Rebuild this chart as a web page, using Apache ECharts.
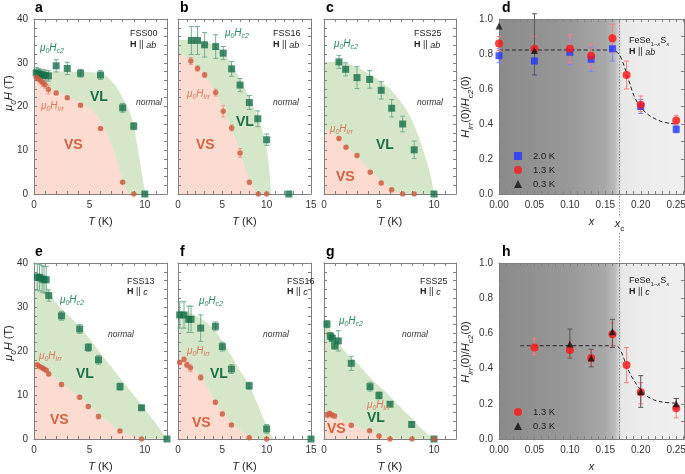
<!DOCTYPE html>
<html><head><meta charset="utf-8">
<script src="https://cdn.jsdelivr.net/npm/echarts@6/dist/echarts.min.js"></script>
<style>html,body{margin:0;padding:0;background:#fff}#c{width:685px;height:474px}</style>
</head><body><div id="c"></div>
<script>
// ---------- DATA ----------
// [T (K), mu0H (T), error]
const a_c2  = [[0.2,27.7,1.2],[0.4,27.5,1.2],[0.6,27.3,1.2],[0.8,27.2,1.2],[1.0,27.1,1.2],[1.3,27.0,1.2],[2.0,29.3,1.4],[3.0,28.7,1.4],[4.2,27.6,0.9],[6.0,27.2,1.0],[8.0,19.7,1.0],[9.0,15.5,0.8],[10.0,0,0]];
const a_irr = [[0.2,26.7,0.5],[0.4,26.3,0.6],[0.6,25.9,0.7],[0.8,25.4,0.8],[1.0,25.0,0.8],[1.3,23.9,1.0],[2.0,23.1,0.4],[3.0,22.0,0.3],[4.2,20.3,0.3],[6.0,15.0,0.2],[8.0,2.7,0.3],[9.0,0,0]];
const a_bc2 = [[0,28],[2,28],[4,27.9],[5.5,27.8],[6.3,27.3],[7,25.8],[7.5,24.2],[8,22],[8.6,19],[9,15.5],[9.25,12],[9.55,7.6],[9.83,3.2],[10.05,0]];
const a_birr= [[0,27.2],[0.5,26.3],[1,25.3],[1.5,24.3],[2,23.5],[3,22.4],[4,21.2],[5,19.6],[5.6,18.2],[6.3,15.5],[7,11.5],[7.6,6.5],[8.2,1.8],[8.6,0]];

const b_c2  = [[1.5,35.1,3.2],[2.2,35.1,3.2],[3.0,34.1,2.8],[4.25,33.7,2.7],[5.1,32.2,1.5],[6.05,28.6,1.7],[7.0,24.9,1.5],[8.05,20.9,1.6],[9.0,17.2,1.8],[10.0,12.4,1.3],[12.5,0,0]];
const b_irr = [[1.45,30.4,0.8],[2.2,28.7,0.6],[3.0,27.2,0.5],[4.25,23.2,0.8],[5.1,18.9,1.3],[6.05,15.1,0.7],[7.0,9.4,1.0],[8.05,2.7,0.4],[9.05,0,0],[10.0,0,0]];
const b_bc2 = [[0,35.2],[2,35.2],[3,34.8],[4,34],[5,32.5],[6,29.8],[7,26.3],[8,22.3],[9,17.6],[9.5,14.6],[10,10.5],[10.3,5.5],[10.5,0]];
const b_birr= [[0,32.2],[1.5,30.5],[2.2,29],[3,27.3],[4,24.2],[5,19.8],[6,15.2],[7,9.8],[7.5,6.5],[8,3.5],[8.5,1.3],[9,0.2],[9.3,0]];

const c_c2  = [[1.36,30.2,1.5],[1.97,28.5,1.5],[3.0,26.6,2.5],[4.15,26.2,2.0],[5.2,23.7,2.0],[6.15,19.6,2.0],[7.15,16.0,1.8],[8.2,10.1,2.0],[10.0,0,0]];
const c_irr = [[1.36,12.7,0.3],[2.0,10.7,0.3],[3.0,8.8,0.3],[4.2,5.0,0.3],[5.2,2.5,0.3],[6.15,1.0,0.2],[7.15,0,0],[8.2,0,0]];
const c_bc2 = [[0,30.2],[1.4,30.2],[2,29.9],[3,29],[4,27.6],[5,26],[6,24],[7,21],[7.5,19.2],[8,16.8],[8.7,12.4],[9.2,8.5],[9.64,4.8],[10,0]];
const c_birr= [[0,14.8],[0.55,14.2],[1.36,12.9],[2,11],[3,8.6],[4,6],[5,3.5],[6,1.5],[6.6,0.5],[7.1,0]];

const e_c2  = [[0.3,36.8,3],[0.5,36.7,3],[0.73,36.4,3],[0.9,36.2,3],[1.1,36.2,3],[1.33,32.6,1.3],[2.48,28.0,1.0],[4.12,25.0,1.0],[4.9,20.8,0.9],[5.82,18.0,1.0],[7.76,11.9,0.8],[9.7,7.1,0.4],[12.0,0,0]];
const e_irr = [[0.3,16.85,0.3],[0.5,16.5,0.3],[0.73,16.2,0.3],[0.9,15.9,0.3],[1.1,15.6,0.3],[1.33,14.8,0.4],[2.48,12.4,0.4],[4.12,9.5,0.4],[4.9,7.4,0.4],[5.82,5.1,0.5],[7.76,1.8,0.3],[9.7,0,0]];
const e_bc2 = [[0,37.8],[0.6,37.5],[1.0,35.8],[1.4,33.5],[2,31],[3,28.4],[4,25.8],[5,22.8],[6,19.5],[7,16.3],[8,13.1],[9,10],[10,6.8],[11,3.5],[12,0]];
const e_birr= [[0,17.1],[0.5,16.7],[1,16],[1.5,14.7],[2.5,12.6],[3.5,10.8],[4.5,8.8],[5.5,6.5],[6.5,4.3],[7.5,2.4],[8.5,1.1],[9.5,0.3],[10.2,0]];

const f_c2  = [[0.19,28.2,3],[0.68,28.2,3],[1.2,27.2,3],[1.47,27.2,3],[2.56,25.2,3],[4.22,25.6,1.0],[5.0,21.0,1.0],[6.03,15.9,1.0],[8.03,12.1,0.8],[10.0,2.3,1.0],[15.0,0,0]];
const f_irr = [[0.19,17.4,0.4],[0.68,18.1,0.4],[1.0,16.9,0.6],[1.4,16.2,0.8],[2.56,14.0,0.6],[4.22,8.35,0.4],[5.0,5.7,0.4],[6.03,3.2,0.3],[8.03,0.3,0.2],[10.0,0,0]];
const f_bc2 = [[0,29],[1,28.8],[2,28],[3,26.8],[4,25],[5,22.3],[6,19],[7,15.5],[8,12.3],[9,7.8],[9.7,4.3],[10.4,1.2],[10.8,0]];
const f_birr= [[0,18.4],[0.7,18.3],[1.3,17.3],[2,15.5],[3,12.8],[4,9.3],[5,6.3],[6,3.8],[7,2],[8,0.8],[9.2,0]];

const g_c2  = [[0.27,26.1,0.8],[0.57,23.4,0.8],[0.75,22.9,0.8],[0.97,21.2,0.8],[1.3,22.3,2.3],[2.48,17.2,1.6],[4.18,11.9,1.0],[5.0,9.9,0.8],[6.0,7.9,0.4],[7.97,3.3,0.4],[10.0,0,0]];
const g_irr = [[0.3,5.45,0.5],[0.5,5.8,0.5],[0.73,5.45,0.5],[0.97,5.2,0.4],[2.48,3.1,0.3],[4.15,1.9,0.2],[5.0,0.7,0.2],[6.0,0,0],[8.0,0,0],[10.0,0,0]];
const g_bc2 = [[0,27],[0.3,26.4],[0.7,24.3],[1.2,22.6],[2,19.6],[3,17.3],[3.6,15.7],[4.5,13.2],[5.4,11.2],[6.3,8.9],[7.2,6.6],[8,4.7],[8.7,2.8],[9.4,1.2],[10,0]];
const g_birr= [[0,6.3],[0.5,6.2],[1,5.6],[1.5,4.6],[2.5,3.3],[3.5,2.3],[4.5,1.4],[5.5,0.6],[6.5,0.15],[7.2,0]];

// ratio panels: [x, value, low, high]
const d_20 = [[0,0.79,0.75,0.83],[0.05,0.76,0.68,0.84],[0.10,0.81,0.74,0.88],[0.13,0.77,0.70,0.84],[0.16,0.83,0.76,0.87],[0.20,0.50,0.46,0.54],[0.25,0.37,0.35,0.39]];
const d_13 = [[0,0.86,0.82,0.90],[0.05,0.83,0.75,0.90],[0.10,0.83,0.75,0.91],[0.13,0.79,0.72,0.86],[0.16,0.89,0.81,0.97],[0.18,0.68,0.60,0.76],[0.20,0.51,0.47,0.56],[0.25,0.42,0.40,0.45]];
const d_03 = [[0,0.96,0.96,0.96],[0.05,0.82,0.68,1.03]];
const d_fit = [[0,0.823],[0.16,0.823],[0.165,0.815],[0.17,0.795],[0.175,0.75],[0.18,0.69],[0.185,0.625],[0.19,0.565],[0.195,0.525],[0.20,0.495],[0.21,0.455],[0.22,0.43],[0.23,0.413],[0.24,0.404],[0.25,0.40]];
const h_13 = [[0.05,0.52,0.48,0.57],[0.10,0.505,0.46,0.55],[0.13,0.46,0.42,0.50],[0.16,0.595,0.53,0.66],[0.18,0.42,0.32,0.52],[0.20,0.265,0.20,0.32],[0.25,0.175,0.12,0.23]];
const h_03 = [[0.10,0.54,0.46,0.625],[0.13,0.46,0.41,0.51],[0.16,0.61,0.52,0.68],[0.20,0.27,0.18,0.36],[0.25,0.20,0.17,0.23]];
const h_fit = [[0.03,0.53],[0.165,0.53],[0.17,0.515],[0.175,0.47],[0.18,0.415],[0.185,0.37],[0.19,0.335],[0.20,0.278],[0.21,0.24],[0.22,0.22],[0.23,0.21],[0.25,0.203]];
const X_C = 0.17;
const tempLabels = ['2.0 K','1.3 K','0.3 K'];

// ---------- STYLE ----------
const FONT = 'Liberation Sans';
const AX = '#808080';
const GREEN='#17704a', GREEN_ERR='#72ae90', GREEN_FILL='#d6e7c9', GREEN_TXT='#1c6e46', C2_TXT='#2b8a5c';
const RED='#cc5b41', RED_ERR='#e69c86', PINK_FILL='#fcdcd1', VS_TXT='#d5613f', IRR_TXT='#d9795c';

function rich(fs){
  const sf = Math.round(fs*0.72);
  return {
    n:{fontSize:fs,lineHeight:fs+2,verticalAlign:'top',fontFamily:FONT},
    i:{fontSize:fs,lineHeight:fs+2,verticalAlign:'top',fontStyle:'italic',fontFamily:FONT},
    b:{fontSize:fs,lineHeight:fs+2,verticalAlign:'top',fontWeight:'bold',fontFamily:FONT},
    s:{fontSize:sf,lineHeight:sf+1,verticalAlign:'top',fontStyle:'italic',padding:[Math.round(fs*0.5),0,0,0],fontFamily:FONT},
    sn:{fontSize:sf,lineHeight:sf+1,verticalAlign:'top',padding:[Math.round(fs*0.5),0,0,0],fontFamily:FONT}
  };
}
function lbl(x,y,text,o){
  o=o||{};
  const fs=o.fontSize||9;
  return {type:'text',x:x,y:y,z:100,silent:true,rotation:o.rotation||0,
    style:{text:text,fill:o.fill||'#222',fontFamily:FONT,fontSize:fs,fontStyle:o.fontStyle||'normal',fontWeight:o.fontWeight||'normal',
      align:o.align||'left',textAlign:o.align||'left',verticalAlign:'middle',textVerticalAlign:'middle',rich:rich(fs)}};
}

const grids=[], xAxes=[], yAxes=[], series=[], graphics=[];
function axisBase(gi,pos){
  return {type:'value',gridIndex:gi,position:pos,z:10,
    axisLine:{show:true,onZero:false,lineStyle:{color:AX,width:1}},
    axisTick:{show:true,inside:true,length:3,lineStyle:{color:AX,width:1}},
    splitLine:{show:false},
    axisLabel:{show:false,fontFamily:FONT,fontSize:10,color:'#333'}};
}
function errSeries(gi,data,color,cap){
  return {type:'custom',xAxisIndex:gi*2,yAxisIndex:gi*2,data:data,z:11,silent:true,clip:false,
    encode:{x:0,y:[1,2]},
    renderItem:function(params,api){
      const x=api.value(0), p1=api.coord([x,api.value(1)]), p2=api.coord([x,api.value(2)]);
      const st={stroke:color,lineWidth:1};
      return {type:'group',children:[
        {type:'line',shape:{x1:p1[0],y1:p1[1],x2:p2[0],y2:p2[1]},style:st},
        {type:'line',shape:{x1:p1[0]-cap,y1:p1[1],x2:p1[0]+cap,y2:p1[1]},style:st},
        {type:'line',shape:{x1:p2[0]-cap,y1:p2[1],x2:p2[0]+cap,y2:p2[1]},style:st}]};
    }};
}

// ---------- T panels ----------
const tPanels=[
 {left:34, top:19, w:133,h:175,xmax:12,c2:a_c2,irr:a_irr,bc2:a_bc2,birr:a_birr,ylab:true},
 {left:178,top:19, w:133,h:175,xmax:15,c2:b_c2,irr:b_irr,bc2:b_bc2,birr:b_birr,ylab:false},
 {left:324,top:19, w:132,h:175,xmax:12,c2:c_c2,irr:c_irr,bc2:c_bc2,birr:c_birr,ylab:false},
 {left:34, top:263,w:133,h:176,xmax:12,c2:e_c2,irr:e_irr,bc2:e_bc2,birr:e_birr,ylab:true},
 {left:178,top:263,w:133,h:176,xmax:15,c2:f_c2,irr:f_irr,bc2:f_bc2,birr:f_birr,ylab:false},
 {left:324,top:263,w:132,h:176,xmax:12,c2:g_c2,irr:g_irr,bc2:g_bc2,birr:g_birr,ylab:false}
];
tPanels.forEach(function(p,gi){
  grids.push({left:p.left,top:p.top,width:p.w,height:p.h,outerBoundsMode:'none',containLabel:false});
  const xb=axisBase(gi,'bottom');
  Object.assign(xb,{min:0,max:p.xmax,interval:1,name:'{i|T}{n| (K)}',nameLocation:'middle',nameGap:22,
    nameTextStyle:{fontFamily:FONT,fontSize:11,color:'#222',rich:rich(11)}});
  xb.axisLabel=Object.assign(xb.axisLabel,{show:true,margin:6,formatter:function(v){return Math.abs(v%5)<1e-9?String(v):'';}});
  const xt=axisBase(gi,'top'); Object.assign(xt,{min:0,max:p.xmax,interval:1});
  const yl=axisBase(gi,'left'); Object.assign(yl,{min:0,max:40,interval:2});
  yl.axisLabel=Object.assign(yl.axisLabel,{show:p.ylab,margin:6,formatter:function(v){return v%10===0?String(v):'';}});
  const yr=axisBase(gi,'right'); Object.assign(yr,{min:0,max:40,interval:2});
  xAxes.push(xb,xt); yAxes.push(yl,yr);
  const ax={xAxisIndex:gi*2,yAxisIndex:gi*2};
  series.push(Object.assign({type:'line',data:p.bc2,smooth:0.45,symbol:'none',silent:true,z:1,
    lineStyle:{opacity:0},areaStyle:{color:GREEN_FILL,opacity:1}},ax));
  series.push(Object.assign({type:'line',data:p.birr,smooth:0.45,symbol:'none',silent:true,z:2,
    lineStyle:{opacity:0},areaStyle:{color:PINK_FILL,opacity:1}},ax));
  series.push(errSeries(gi,p.c2.filter(function(r){return r[2]>0;}).map(function(r){return [r[0],r[1]-r[2],r[1]+r[2]];}),GREEN_ERR,2.5));
  series.push(errSeries(gi,p.irr.filter(function(r){return r[2]>0;}).map(function(r){return [r[0],r[1]-r[2],r[1]+r[2]];}),RED_ERR,2));
  series.push(Object.assign({type:'scatter',data:p.c2.map(function(r){return [r[0],r[1]];}),symbol:'rect',symbolSize:7,z:12,silent:true,
    itemStyle:{color:GREEN}},ax));
  series.push(Object.assign({type:'scatter',data:p.irr.map(function(r){return [r[0],r[1]];}),symbol:'circle',symbolSize:5.5,z:12,silent:true,
    itemStyle:{color:RED}},ax));
});

// ---------- ratio panels ----------
const rPanels=[
 {left:499,top:19, w:185,h:175,sets:[d_20,d_13,d_03],fit:d_fit,key:'d'},
 {left:499,top:263,w:185,h:176,sets:[null,h_13,h_03],fit:h_fit,key:'h'}
];
const symCfg=[{sym:'rect',size:7,color:'#2038ff',err:'#7a86ff'},{sym:'circle',size:8,color:'#ff1414',err:'#ff7d7d'},{sym:'triangle',size:7,color:'#111',err:'#555'}];
const grad={type:'linear',x:0,y:0,x2:1,y2:0,colorStops:[
  {offset:0,color:'#8b8b8b'},{offset:0.38,color:'#989898'},{offset:0.57,color:'#a8a8a8'},
  {offset:0.625,color:'#b9b9b9'},{offset:0.645,color:'#d2d2d2'},{offset:0.665,color:'#e8e8e8'},
  {offset:0.75,color:'#ececec'},{offset:1,color:'#f0f0f0'}]};
const legends=[];
rPanels.forEach(function(p,k){
  const gi=tPanels.length+k;
  grids.push({left:p.left,top:p.top,width:p.w,height:p.h,outerBoundsMode:'none',containLabel:false});
  const xb=axisBase(gi,'bottom');
  Object.assign(xb,{min:0,max:0.261,interval:0.01,name:'{i|x}',nameLocation:'middle',nameGap:22,
    nameTextStyle:{fontFamily:FONT,fontSize:11,color:'#222',rich:rich(11)}});
  xb.axisLabel=Object.assign(xb.axisLabel,{show:true,margin:6,formatter:function(v){
    const r=Math.round(v*100); return (Math.abs(r-v*100)<1e-6 && r%5===0)?v.toFixed(2):'';}});
  const xt=axisBase(gi,'top'); Object.assign(xt,{min:0,max:0.261,interval:0.01});
  const yl=axisBase(gi,'left'); Object.assign(yl,{min:0,max:1,interval:0.1});
  yl.axisLabel=Object.assign(yl.axisLabel,{show:true,margin:6,formatter:function(v){return Math.round(v*10)%2===0?v.toFixed(1):'';}});
  const yr=axisBase(gi,'right'); Object.assign(yr,{min:0,max:1,interval:0.1});
  xAxes.push(xb,xt); yAxes.push(yl,yr);
  const ax={xAxisIndex:gi*2,yAxisIndex:gi*2};
  series.push(Object.assign({type:'line',data:[],silent:true,z:1,
    markArea:{silent:true,itemStyle:{color:grad},data:[[{xAxis:0,yAxis:0},{xAxis:0.261,yAxis:1}]]}},ax));
  series.push(Object.assign({type:'line',data:p.fit,smooth:0.3,symbol:'none',silent:true,z:5,
    lineStyle:{color:'#222',width:1,type:[4,2.5]}},ax));
  const names=[];
  p.sets.forEach(function(set,j){
    if(!set) return;
    const c=symCfg[j], nm=p.key+'|'+tempLabels[j];
    names.push(nm);
    series.push(errSeries(gi,set.filter(function(r){return r[3]>r[2];}).map(function(r){return [r[0],r[2],r[3]];}),c.err,2.5));
    series.push(Object.assign({type:'scatter',name:nm,data:set.map(function(r){return [r[0],r[1]];}),symbol:c.sym,symbolSize:c.size,z:12+j,silent:true,
      itemStyle:{color:c.color}},ax));
  });
  legends.push({data:names,orient:'vertical',left:514,top:(k===0?151:407),itemWidth:8,itemHeight:8,itemGap:4,padding:0,
    selectedMode:false,formatter:function(n){return n.split('|')[1];},
    textStyle:{fontFamily:FONT,fontSize:9.5,color:'#222',padding:[0,0,0,6]}});
});

// ---------- annotations ----------
const L = function(x,y,t){return lbl(x,y,t,{fontSize:14,fontWeight:'bold',fill:'#000'});};
graphics.push(L(35,8,'a'),L(180,8,'b'),L(326,8,'c'),L(502,8,'d'),L(35,252,'e'),L(180,252,'f'),L(326,252,'g'),L(502,252,'h'));
const c2T='{i|μ}{s|0}{i|H}{s|c2}', irrT='{i|μ}{s|0}{i|H}{s|irr}';
const ann=[
 // [FSS x,y, name, dir x,y, dirText, c2 x,y, irr x,y, VL x,y, VS x,y, normal x,y]
 [130,34,'FSS00',130,46,'ab',40,49,41,107,90,97,64,145,136,103],
 [273,34,'FSS16',273,46,'ab',225,34,187,95,236,122,196,145,273,103],
 [414,34,'FSS25',414,46,'ab',334,45,330,130,376,145,336,177,417,103],
 [127,282,'FSS13',127,293,'c',60,301,39,357,76,374,50,420,108,335],
 [287,282,'FSS16',287,293,'c',199,302,187,352,210,374,192,423,263,335],
 [420,282,'FSS25',420,293,'c',339,322,367,406,367,418,327,429,402,335]
];
ann.forEach(function(a){
  graphics.push(lbl(a[0],a[1],a[2],{fontSize:9}));
  graphics.push(lbl(a[3],a[4],'{b|H}{n| || }{i|'+a[5]+'}',{fontSize:9}));
  graphics.push(lbl(a[6],a[7],c2T,{fontSize:10,fill:C2_TXT}));
  graphics.push(lbl(a[8],a[9],irrT,{fontSize:10,fill:IRR_TXT}));
  graphics.push(lbl(a[10],a[11],'VL',{fontSize:14,fontWeight:'bold',fill:GREEN_TXT}));
  graphics.push(lbl(a[12],a[13],'VS',{fontSize:14,fontWeight:'bold',fill:VS_TXT}));
  graphics.push(lbl(a[14],a[15],'{i|normal}',{fontSize:8.5,fill:'#333'}));
});
const feT='{n|FeSe}{sn|1–}{s|x}{n|S}{s|x}';
graphics.push(lbl(629,42,feT,{fontSize:9}),lbl(629,53,'{b|H}{n| || }{i|ab}',{fontSize:9}));
graphics.push(lbl(629,282,feT,{fontSize:9}),lbl(629,293,'{b|H}{n| || }{i|c}',{fontSize:9}));
graphics.push(lbl(10,93,'{i|μ}{s|0}{i|H}{n| (T)}',{fontSize:11,rotation:Math.PI/2,align:'center'}));
graphics.push(lbl(10,343,'{i|μ}{s|0}{i|H}{n| (T)}',{fontSize:11,rotation:Math.PI/2,align:'center'}));
const ratioT='{i|H}{s|irr}{n|(0)/}{i|H}{s|c2}{n|(0)}';
graphics.push(lbl(467,107,ratioT,{fontSize:11,rotation:Math.PI/2,align:'center'}));
graphics.push(lbl(467,352,ratioT,{fontSize:11,rotation:Math.PI/2,align:'center'}));

const chart=echarts.init(document.getElementById('c'));
chart.setOption({animation:false,backgroundColor:'#fff',grid:grids,xAxis:xAxes,yAxis:yAxes,series:series,legend:legends,graphic:graphics});

// dotted x_c line, positioned through the axis scale
const dIdx=tPanels.length*2;
const xc=chart.convertToPixel({xAxisIndex:dIdx},X_C);
const dash={stroke:'#8c8c8c',lineWidth:1,lineDash:[1.5,1.5]};
const extra=[
  {type:'line',id:'xc1',z:6,silent:true,shape:{x1:xc,y1:19,x2:xc,y2:216},style:dash},
  {type:'line',id:'xc2',z:6,silent:true,shape:{x1:xc,y1:233,x2:xc,y2:439},style:dash},
  Object.assign(lbl(xc,225,'{i|x}{sn|c}',{fontSize:11,align:'center'}),{id:'xcl'})
];
chart.setOption({graphic:graphics.concat(extra)});
</script></body></html>
